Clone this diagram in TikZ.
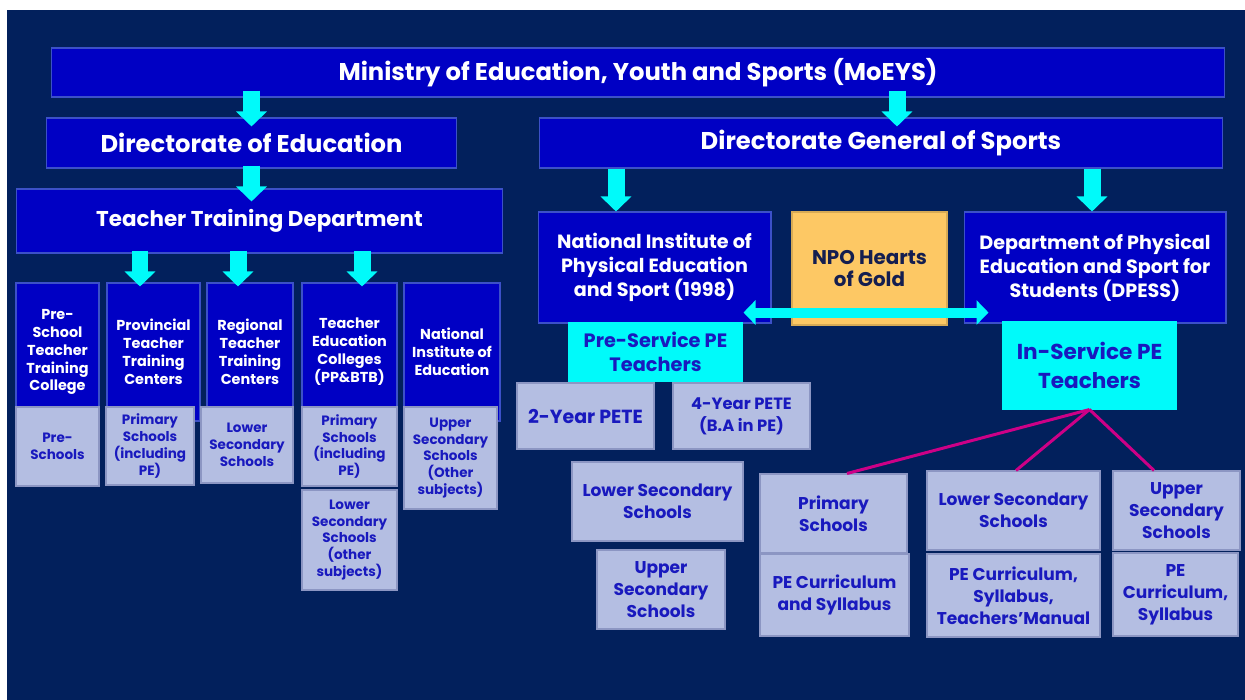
\documentclass[tikz,border=0pt]{standalone}
\usepackage{fontspec}
\setmainfont{Poppins}
\usepackage{tikz}
\usetikzlibrary{arrows.meta, calc, positioning}
\definecolor{navybg}{RGB}{2, 32, 92}
\definecolor{deepblue}{RGB}{0, 0, 196}
\definecolor{blueline}{RGB}{60, 80, 200}
\definecolor{paleblue}{RGB}{180, 190, 226}
\definecolor{paleline}{RGB}{140, 150, 195}
\definecolor{textblue}{RGB}{25, 25, 190}
\definecolor{aqua}{RGB}{0, 250, 250}
\definecolor{gold}{RGB}{253, 200, 100}
\definecolor{goldtext}{RGB}{20, 30, 80}
\definecolor{linkpink}{RGB}{205, 0, 135}

\begin{document}
\begin{tikzpicture}[x=0.02cm, y=-0.02cm,
  box/.style={rectangle, inner sep=1pt, align=center, line width=0.6pt},
  bluebox/.style={box, draw=blueline, fill=deepblue, text=white},
  greybox/.style={box, draw=paleline, fill=paleblue, text=textblue},
  cyanbox/.style={box, draw=aqua, fill=aqua, text=textblue},
  goldbox/.style={box, draw=gold!85!black, fill=gold, text=goldtext},
  bigfont/.style={font=\fontsize{13.8}{16}\selectfont\bfseries},
  midfont/.style={font=\fontsize{10.9}{13.6}\selectfont\bfseries},
  smallfont/.style={font=\fontsize{8.2}{10.2}\selectfont\bfseries},
  tinyfont/.style={font=\fontsize{7.7}{9.6}\selectfont\bfseries},
  schoolfont/.style={font=\fontsize{9.7}{12.5}\selectfont\bfseries},
  downarrow/.style={aqua, line width=0.34cm, -{Triangle[width=0.6cm, length=0.3cm]}},
  botharrow/.style={aqua, line width=0.2cm, {Triangle[width=0.48cm, length=0.24cm]}-{Triangle[width=0.48cm, length=0.24cm]}},
  link/.style={linkpink, line width=0.06cm}]
\useasboundingbox (0,0) rectangle (1245,700);
\fill[white] (0,0) rectangle (1245,700);
\fill[navybg] (7,10) rectangle (1245,700);

% top levels
\node[bluebox, bigfont, minimum width=23.48cm, minimum height=0.98cm] (moe) at (638,72.5) {Ministry of Education, Youth and Sports (MoEYS)};
\node[bluebox, bigfont, minimum width=8.22cm, minimum height=1cm] (doe) at (251.5,143) {Directorate of Education};
\node[bluebox, bigfont, minimum width=13.68cm, minimum height=1cm] (dgs) at (881,143) {Directorate General of Sports};
\node[bluebox, font=\fontsize{12.2}{15}\selectfont\bfseries, minimum width=9.74cm, minimum height=1.28cm] (ttd) at (259.5,221) {Teacher Training Department};

% teacher training institutions
\node[bluebox, smallfont, minimum width=1.66cm, minimum height=2.76cm] (pstc) at (57.5,352) {Pre-\\School\\Teacher\\Training\\College};
\node[bluebox, smallfont, minimum width=1.86cm, minimum height=2.76cm] (ptc) at (153.5,352) {Provincial\\Teacher\\Training\\Centers};
\node[bluebox, smallfont, minimum width=1.72cm, minimum height=2.76cm] (rtc) at (250,352) {Regional\\Teacher\\Training\\Centers};
\node[bluebox, smallfont, minimum width=1.9cm, minimum height=2.76cm] (tec) at (349.5,352) {Teacher\\Education\\Colleges\\(PP\&BTB)};
\node[bluebox, smallfont, minimum width=1.92cm, minimum height=2.76cm] (nie) at (452,352) {National\\Institute of\\Education};

\node[greybox, tinyfont, minimum width=1.66cm, minimum height=1.58cm] (gps) at (57.5,446.5) {Pre-\\Schools};
\node[greybox, tinyfont, minimum width=1.76cm, minimum height=1.56cm] (gpp) at (150,446) {Primary\\Schools\\(including\\PE)};
\node[greybox, tinyfont, minimum width=1.84cm, minimum height=1.52cm] (grl) at (247,445) {Lower\\Secondary\\Schools};
\node[greybox, tinyfont, minimum width=1.9cm, minimum height=1.58cm] (gtp) at (349.5,446.5) {Primary\\Schools\\(including\\PE)};
\node[greybox, tinyfont, minimum width=1.9cm, minimum height=2cm] (gtl) at (349.5,540) {Lower\\Secondary\\Schools\\(other\\subjects)};
\node[greybox, tinyfont, minimum width=1.86cm, minimum height=2.04cm] (gnu) at (450.5,458) {Upper\\Secondary\\Schools\\(Other\\subjects)};

% sports side
\node[bluebox, midfont, minimum width=4.66cm, minimum height=2.22cm] (nipes) at (654.5,267.5) {National Institute of\\Physical Education\\and Sport (1998)};
\node[goldbox, font=\fontsize{11.3}{13}\selectfont\bfseries, minimum width=3.1cm, minimum height=2.26cm] (npo) at (869.5,268.5) {NPO Hearts\\of Gold};
\node[bluebox, midfont, minimum width=5.24cm, minimum height=2.22cm] (dpess) at (1095,267.5) {Department of Physical\\Education and Sport for\\Students (DPESS)};
\node[cyanbox, font=\fontsize{11}{13.6}\selectfont\bfseries, minimum width=3.46cm, minimum height=1.16cm] (pre) at (655.5,352) {Pre-Service PE\\Teachers};
\node[cyanbox, font=\fontsize{12.3}{16.4}\selectfont\bfseries, minimum width=3.46cm, minimum height=1.74cm] (ins) at (1089.5,365.5) {In-Service PE\\Teachers};

\node[greybox, font=\fontsize{10.8}{12.5}\selectfont\bfseries, minimum width=2.74cm, minimum height=1.32cm] (pete2) at (585.5,416) {2-Year PETE};
\node[greybox, font=\fontsize{9.3}{12.5}\selectfont\bfseries, minimum width=2.74cm, minimum height=1.32cm] (pete4) at (741.5,416) {4-Year PETE\\(B.A in PE)};
\node[greybox, schoolfont, minimum width=3.42cm, minimum height=1.58cm] (plow) at (657.5,501.5) {Lower Secondary\\Schools};
\node[greybox, schoolfont, minimum width=2.56cm, minimum height=1.58cm] (pup) at (661,589.5) {Upper\\Secondary\\Schools};

\node[greybox, schoolfont, minimum width=2.94cm, minimum height=1.58cm] (iprim) at (833.5,513.5) {Primary\\Schools};
\node[greybox, schoolfont, minimum width=2.98cm, minimum height=1.64cm] (icur1) at (834.5,595) {PE Curriculum\\and Syllabus};
\node[greybox, schoolfont, minimum width=3.46cm, minimum height=1.58cm] (ilow) at (1013.5,510.5) {Lower Secondary\\Schools};
\node[greybox, schoolfont, minimum width=3.46cm, minimum height=1.66cm] (icur2) at (1013.5,595.5) {PE Curriculum,\\Syllabus,\\Teachers’Manual};
\node[greybox, schoolfont, minimum width=2.54cm, minimum height=1.58cm] (iup) at (1176.5,510.5) {Upper\\Secondary\\Schools};
\node[greybox, schoolfont, minimum width=2.5cm, minimum height=1.66cm] (icur3) at (1175.5,594.5) {PE\\Curriculum,\\Syllabus};

% arrows
\draw[downarrow] ($(moe.south -| doe.north)+(0,-7)$) -- ($(doe.north)+(0,9)$);
\draw[downarrow] ($(moe.south -| dgs.north)+(16,-7)$) -- ($(dgs.north)+(16,9)$);
\draw[downarrow] ($(doe.south)+(0,-3)$) -- ($(ttd.north -| doe.south)+(0,13)$);
\draw[downarrow] ($(dgs.south -| nipes.north)+(-38.5,0)$) -- ($(nipes.north)+(-38.5,0)$);
\draw[downarrow] ($(dgs.south -| dpess.north)+(-3,0)$) -- ($(dpess.north)+(-3,0)$);
\draw[downarrow] ($(ttd.south -| ptc.north)+(-13.5,-3)$) -- ($(ptc.north)+(-13.5,4)$);
\draw[downarrow] ($(ttd.south -| rtc.north)+(-12,-3)$) -- ($(rtc.north)+(-12,4)$);
\draw[downarrow] ($(ttd.south -| tec.north)+(12.5,-3)$) -- ($(tec.north)+(12.5,4)$);
\draw[botharrow] ($(nipes.south east)+(-28,-11)$) -- ($(dpess.south west)+(25,-11)$);

\draw[link] (ins.south) -- ($(iprim.north)+(13.5,0)$);
\draw[link] (ins.south) -- ($(ilow.north)+(2.5,0)$);
\draw[link] (ins.south) -- ($(iup.north)+(-22.5,0)$);
\end{tikzpicture}
\end{document}
